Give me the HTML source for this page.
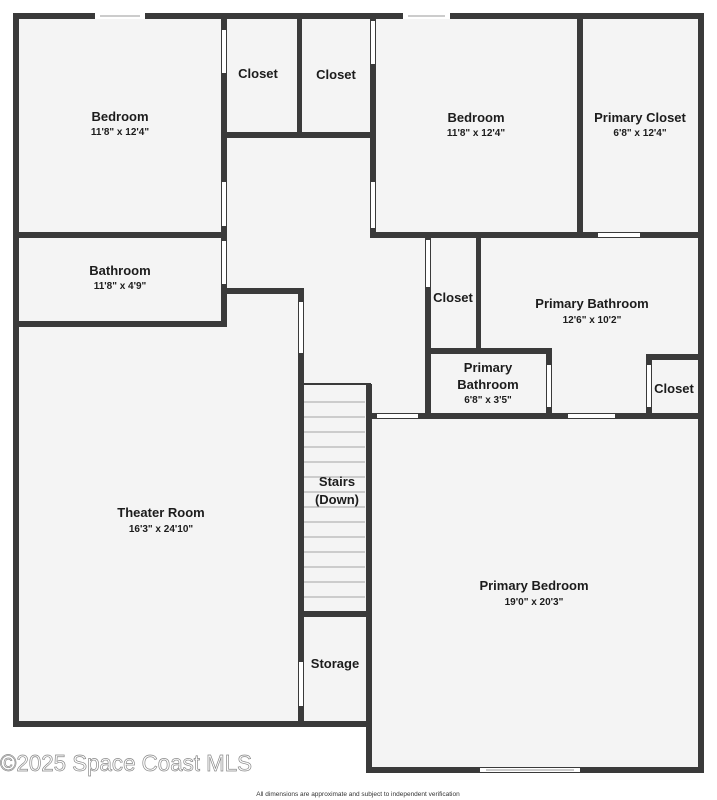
<!DOCTYPE html>
<html><head><meta charset="utf-8"><style>
html,body{margin:0;padding:0;background:#fff;}
svg{display:block;}
.n{font-family:"Liberation Sans",sans-serif;font-weight:bold;font-size:13px;fill:#1c1c1c;text-anchor:middle;}
.d{font-family:"Liberation Sans",sans-serif;font-weight:bold;font-size:10px;fill:#1c1c1c;text-anchor:middle;}
</style></head><body>
<svg width="717" height="800" viewBox="0 0 717 800" xmlns="http://www.w3.org/2000/svg">
<rect width="717" height="800" fill="#fff"/>
<path d="M16,16 H701 V416 H701 V770 H369 V724 H16 Z" fill="#f4f4f4"/>
<g stroke="#b5b5b5" stroke-width="1.2">
<line x1="304" y1="402" x2="365" y2="402"/><line x1="304" y1="417" x2="365" y2="417"/>
<line x1="304" y1="432" x2="365" y2="432"/><line x1="304" y1="447" x2="365" y2="447"/>
<line x1="304" y1="462" x2="365" y2="462"/><line x1="304" y1="477" x2="365" y2="477"/>
<line x1="304" y1="492" x2="365" y2="492"/><line x1="304" y1="507" x2="365" y2="507"/>
<line x1="304" y1="522" x2="365" y2="522"/><line x1="304" y1="537" x2="365" y2="537"/>
<line x1="304" y1="552" x2="365" y2="552"/><line x1="304" y1="567" x2="365" y2="567"/>
<line x1="304" y1="582" x2="365" y2="582"/><line x1="304" y1="597" x2="365" y2="597"/>
</g>
<g fill="#3a3a3a">
<rect x="13" y="13" width="691" height="6"/>
<rect x="13" y="13" width="6" height="714"/>
<rect x="13" y="721" width="358" height="6"/>
<rect x="698" y="13" width="6" height="760"/>
<rect x="366" y="767" width="338" height="6"/>
<rect x="366" y="384" width="6" height="389"/>
<rect x="304" y="383" width="67" height="2"/>
<rect x="221" y="13" width="6" height="314"/>
<rect x="13" y="232" width="214" height="6"/>
<rect x="13" y="321" width="214" height="6"/>
<rect x="221" y="288" width="83" height="6"/>
<rect x="298" y="288" width="6" height="439"/>
<rect x="298" y="611" width="73" height="6"/>
<rect x="297" y="13" width="5" height="125"/>
<rect x="221" y="132" width="155" height="6"/>
<rect x="370" y="13" width="6" height="225"/>
<rect x="370" y="232" width="334" height="6"/>
<rect x="577" y="13" width="6" height="225"/>
<rect x="425" y="232" width="6" height="187"/>
<rect x="476" y="232" width="5" height="120"/>
<rect x="425" y="348" width="127" height="6"/>
<rect x="546" y="348" width="6" height="71"/>
<rect x="366" y="413" width="338" height="6"/>
<rect x="646" y="354" width="58" height="6"/>
<rect x="646" y="354" width="6" height="65"/>
</g>
<g fill="#fff">
<rect x="95" y="13" width="50" height="6"/>
<rect x="403" y="13" width="47" height="6"/>
<rect x="222" y="30" width="4" height="43"/>
<rect x="222" y="182" width="4" height="44"/>
<rect x="222" y="241" width="4" height="43"/>
<rect x="299" y="302" width="4" height="51"/>
<rect x="299" y="662" width="4" height="44"/>
<rect x="371" y="21" width="4" height="43"/>
<rect x="371" y="182" width="4" height="46"/>
<rect x="598" y="233" width="42" height="4"/>
<rect x="426" y="240" width="4" height="47"/>
<rect x="547" y="365" width="4" height="42"/>
<rect x="647" y="365" width="4" height="42"/>
<rect x="377" y="414" width="41" height="4"/>
<rect x="568" y="414" width="47" height="4"/>
<rect x="480" y="768" width="100" height="4"/>
</g>
<g stroke="#999" stroke-width="1" fill="none">
<line x1="100" y1="16" x2="140" y2="16"/>
<line x1="408" y1="16" x2="445" y2="16"/>
<line x1="486" y1="770" x2="574" y2="770"/>
</g>
<text class="n" x="120" y="121">Bedroom</text><text class="d" x="120" y="135">11'8" x 12'4"</text>
<text class="n" x="258" y="78">Closet</text>
<text class="n" x="336" y="79">Closet</text>
<text class="n" x="476" y="122">Bedroom</text><text class="d" x="476" y="136">11'8" x 12'4"</text>
<text class="n" x="640" y="122">Primary Closet</text><text class="d" x="640" y="136">6'8" x 12'4"</text>
<text class="n" x="120" y="275">Bathroom</text><text class="d" x="120" y="289">11'8" x 4'9"</text>
<text class="n" x="453" y="302">Closet</text>
<text class="n" x="592" y="308">Primary Bathroom</text><text class="d" x="592" y="323">12'6" x 10'2"</text>
<text class="n" x="488" y="372">Primary</text><text class="n" x="488" y="389">Bathroom</text><text class="d" x="488" y="403">6'8" x 3'5"</text>
<text class="n" x="674" y="393">Closet</text>
<text class="n" x="337" y="486">Stairs</text><text class="n" x="337" y="504">(Down)</text>
<text class="n" x="161" y="517">Theater Room</text><text class="d" x="161" y="532">16'3" x 24'10"</text>
<text class="n" x="335" y="668">Storage</text>
<text class="n" x="534" y="590">Primary Bedroom</text><text class="d" x="534" y="605">19'0" x 20'3"</text>
<text x="0" y="771" textLength="252" lengthAdjust="spacingAndGlyphs" font-family="'Liberation Sans',sans-serif" font-size="23" fill="#fff" stroke="#888" stroke-width="0.7">©2025 Space Coast MLS</text>
<text x="358" y="796" font-family="'Liberation Sans',sans-serif" font-size="6.5" fill="#333" text-anchor="middle">All dimensions are approximate and subject to independent verification</text>
</svg>
</body></html>
